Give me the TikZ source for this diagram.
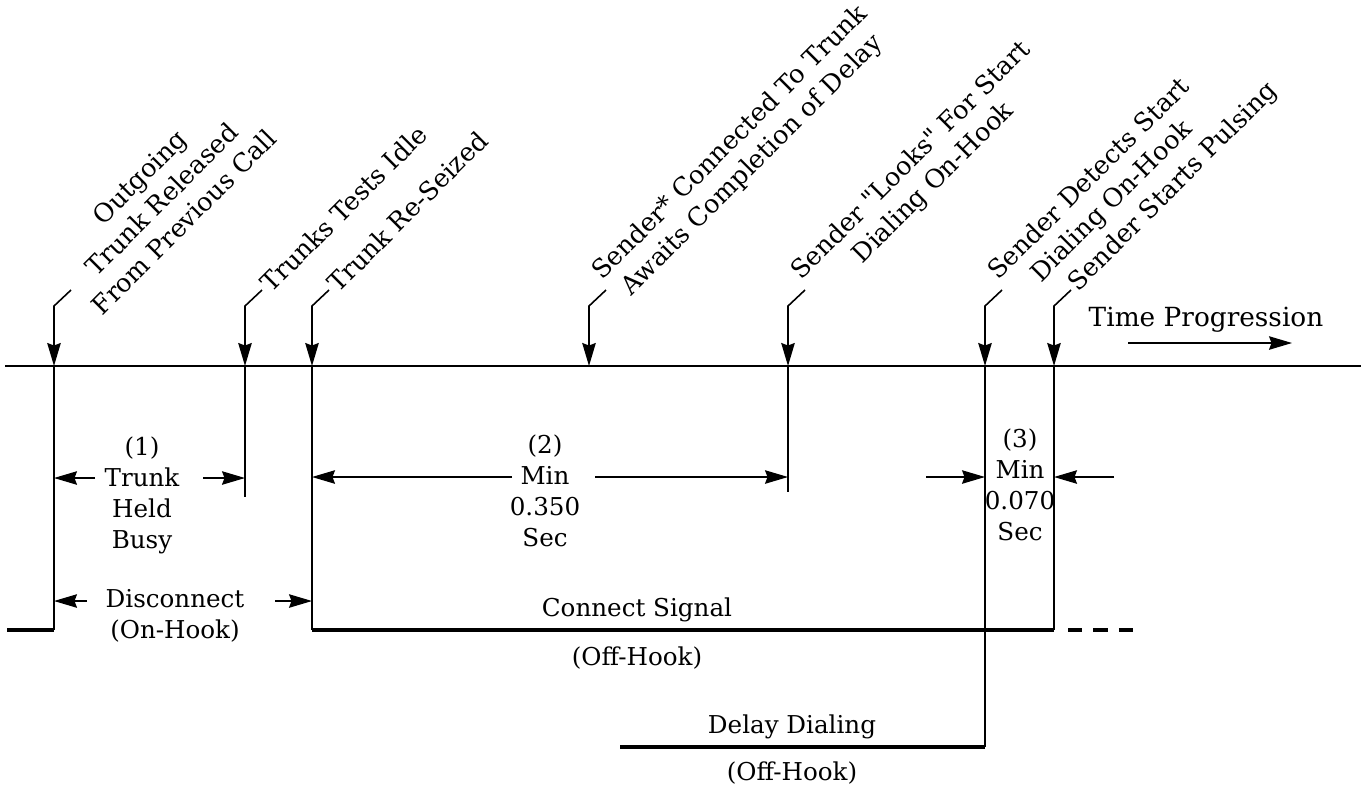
\documentclass[tikz,border=0pt]{standalone}
\usepackage{fontspec}
\setmainfont{DejaVu Serif}
\usetikzlibrary{arrows.meta, positioning}

\begin{document}
\begin{tikzpicture}[x=0.02cm, y=-0.02cm,
  >={Stealth[length=4.6mm, width=2.7mm, inset=0.5mm]},
  axis/.style={line width=1.2pt},
  tick/.style={line width=0.9pt},
  lead/.style={line width=0.9pt, ->},
  sig/.style={line width=1.9pt},
  dim/.style={line width=0.75pt, ->},
  evt/.style={rotate=45, anchor=west, align=center, inner sep=2pt,
              font=\fontsize{14.5}{18}\selectfont},
  lbl/.style={align=center, inner sep=0pt,
              font=\fontsize{14}{17.6}\selectfont}
]
  \useasboundingbox (0,0) rectangle (1361,789);

  %% Time axis
  \coordinate (axL) at (5,366);
  \coordinate (axR) at (1361,366);
  \draw[axis] (axL) -- (axR);

  %% Instants, with their leaders from the labels
  \foreach \n/\x in {A/54, B/245, C/312, D/589, E/788, F/985, G/1054} {
    \coordinate (t\n) at (\x,366);
    \coordinate (b\n) at (\x,306);
    \coordinate (l\n) at (\x+17,290);
    \draw[lead] (l\n) -- (b\n) -- (t\n);
  }

  %% Event labels
  \node[evt] (OUT)   at (lA) {Outgoing\\Trunk Released\\From Previous Call};
  \node[evt] (IDLE)  at (lB) {Trunks Tests Idle};
  \node[evt] (SEIZE) at (lC) {Trunk Re-Seized};
  \node[evt] (CONN)  at (lD) {Sender* Connected To Trunk\\Awaits Completion of Delay};
  \node[evt] (LOOK)  at (lE) {Sender \textquotedbl Looks\textquotedbl\ For Start\\Dialing On-Hook};
  \node[evt] (DET)   at (lF) {Sender Detects Start\\Dialing On-Hook};
  \node[evt] (PULSE) at (lG) {Sender Starts Pulsing};

  %% Verticals below the axis
  \coordinate (dA) at (54,630);
  \coordinate (dB) at (245,497);
  \coordinate (dC) at (312,630);
  \coordinate (dE) at (788,492);
  \coordinate (dF) at (985,747);
  \coordinate (dG) at (1054,630);
  \foreach \n in {A,B,C,E,F,G}
    \draw[tick] (t\n) -- (d\n);

  %% Signal levels
  \coordinate (s0)  at (7,630);
  \coordinate (s1)  at (1068,630);
  \coordinate (s2)  at (1135,630);
  \coordinate (dly) at (620,747);
  \draw[sig] (s0) -- (dA);
  \draw[sig] (dC) -- (dG);
  \draw[sig, dash pattern=on 8pt off 6.5pt] (s1) -- (s2);
  \draw[sig] (dly) -- (dF);

  %% (1) Trunk held busy
  \node[lbl] (HB) at (142,495) {(1)\\Trunk\\Held\\Busy};
  \coordinate (hbL) at (95,478);
  \coordinate (hbR) at (203,478);
  \draw[dim] (hbL) -- (tA |- hbL);
  \draw[dim] (hbR) -- (tB |- hbR);

  %% Disconnect
  \node[lbl] (DISC) at (175,616) {Disconnect\\(On-Hook)};
  \coordinate (dcL) at (87,601);
  \coordinate (dcR) at (275,601);
  \draw[dim] (dcL) -- (tA |- dcL);
  \draw[dim] (dcR) -- (tC |- dcR);

  %% (2) Min 0.350 Sec
  \node[lbl] (MINB) at (545,491) {(2)\\Min\\0.350\\Sec};
  \coordinate (mbL) at (512,477);
  \coordinate (mbR) at (595,477);
  \draw[dim] (mbL) -- (tC |- mbL);
  \draw[dim] (mbR) -- (tE |- mbR);

  %% (3) Min 0.070 Sec
  \node[lbl] (MINC) at (1020,485) {(3)\\Min\\0.070\\Sec};
  \coordinate (mcL) at (926,477);
  \coordinate (mcR) at (1114,477);
  \draw[dim] (mcL) -- (tF |- mcL);
  \draw[dim] (mcR) -- (tG |- mcR);

  %% Signal names
  \node[lbl] (CSIG) at (637,610) {Connect Signal};
  \node[lbl, below=0.48cm of CSIG] (OFFA) {(Off-Hook)};
  \node[lbl] (DDIAL) at (792,727) {Delay Dialing};
  \node[lbl, below=0.44cm of DDIAL] (OFFB) {(Off-Hook)};

  %% Time progression
  \node[lbl, font=\fontsize{15}{18}\selectfont] (TIME) at (1206,320) {Time Progression};
  \coordinate (tpL) at (1128,343);
  \coordinate (tpR) at (1292,343);
  \draw[dim] (tpL) -- (tpR);
\end{tikzpicture}
\end{document}
